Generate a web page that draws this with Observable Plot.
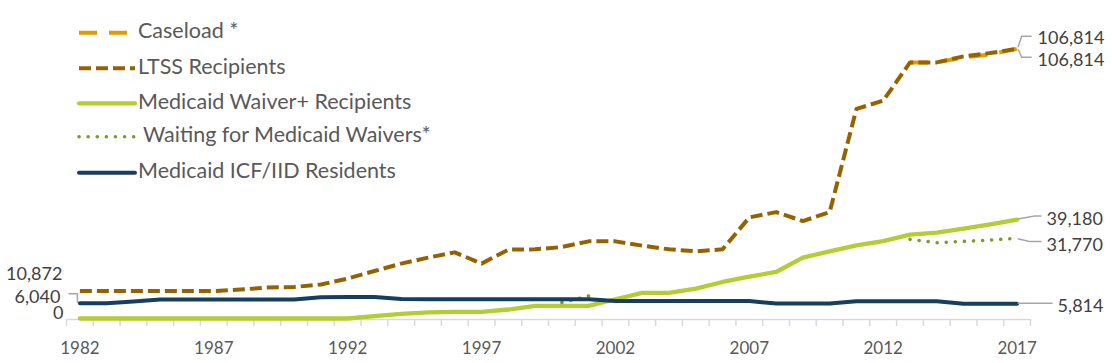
<!DOCTYPE html>
<html>
<head>
<meta charset="utf-8">
<script src="https://cdn.jsdelivr.net/npm/d3@7"></script>
<script src="https://cdn.jsdelivr.net/npm/@observablehq/plot@0.6"></script>
<style>
  html, body { margin: 0; padding: 0; background: #fff; }
  #chart { width: 1112px; height: 363px; }
</style>
</head>
<body>
<div id="chart"></div>
<script>
// ---------- DATA ----------
const years = [1982, 1983, 1984, 1985, 1986, 1987, 1988, 1989, 1990, 1991, 1992, 1993,
               1994, 1995, 1996, 1997, 1998, 1999, 2000, 2001, 2002, 2003, 2004, 2005,
               2006, 2007, 2008, 2009, 2010, 2011, 2012, 2013, 2014, 2015, 2016, 2017];
const labelYears = [1982, 1987, 1992, 1997, 2002, 2007, 2012, 2017];
const seriesNames = ["Caseload *", "LTSS Recipients", "Medicaid Waiver+ Recipients",
                     "Waiting for Medicaid Waivers*", "Medicaid ICF/IID Residents"];

const caseload = [null, null, null, null, null, null, null, null, null, null, null, null,
                  null, null, null, null, null, null, null, null, null, null, null, null,
                  null, null, null, null, null, null, null, 101420, 101420, 103400, 104600, 106814];
const ltss = [10872, 10872, 10872, 10872, 10872, 10872, 11460, 12250, 12490, 13440, 15810, 18810,
              21740, 24110, 26200, 21740, 27270, 27400, 28300, 30550, 30550, 28850, 27390, 26600,
              27390, 40040, 42130, 38580, 42130, 83000, 86280, 101420, 101420, 103800, 105140, 106814];
const waiver = [0, 0, 0, 0, 0, 0, 0, 0, 0, 0, 0, 900,
                1800, 2400, 2600, 2600, 3560, 4980, 4980, 4980, 7630, 10120, 10120, 11860,
                14470, 16600, 18420, 24110, 26600, 28970, 30670, 33200, 33990, 35570, 37270, 39180];
const waiting = [null, null, null, null, null, null, null, null, null, null, null, null,
                 null, null, null, null, null, null, 6320, 8930, null, null, null, null,
                 null, null, null, null, null, null, null, 31340, 30040, 30550, 31070, 31770];
const icf = [6040, 6040, 6700, 7500, 7500, 7500, 7500, 7500, 7500, 8400, 8500, 8500,
             7700, 7600, 7600, 7600, 7600, 7600, 7600, 7600, 6950, 6950, 6950, 6950,
             6950, 6950, 5900, 5900, 5900, 6800, 6800, 6800, 6800, 5850, 5850, 5814];

// ---------- STYLES ----------
const FONT = "Lato, 'Open Sans', sans-serif";
const styles = [
  {stroke: "#E09B00", width: 4,   dash: "18,12", cap: "butt"},
  {stroke: "#946300", width: 4,   dash: "12,5",  cap: "butt"},
  {stroke: "#B5CC34", width: 4.3, dash: null,    cap: "round"},
  {stroke: "#7B9A28", width: 3.5, dash: "0.1,9", cap: "round"},
  {stroke: "#163F5F", width: 4,   dash: null,    cap: "round"}
];
const seriesValues = [caseload, ltss, waiver, waiting, icf];

const rows = seriesValues.map(vals => years.map((yr, i) => ({year: yr, value: vals[i]})));
const halfTicks = years.map(y => y - 0.5).concat([years[years.length - 1] + 0.5]);
const fmt = d3.format(",");

function lineMark(i) {
  const s = styles[i];
  return Plot.line(rows[i], {
    x: "year", y: "value",
    stroke: s.stroke, strokeWidth: s.width,
    strokeDasharray: s.dash || undefined,
    strokeLinecap: s.cap, strokeLinejoin: "round"
  });
}

// annotations: value labels with leader lines + legend
function annotate(index, scales) {
  const X = scales.x, Y = scales.y;
  const g = d3.create("svg:g").attr("font-family", FONT).attr("text-anchor", "start");
  const leader = (d) => g.append("path").attr("d", d).attr("fill", "none")
      .attr("stroke", "#A6A6A6").attr("stroke-width", 1.5);
  const label = (x, y, t, anchor) => g.append("text").attr("x", x).attr("y", y)
      .attr("dy", "0.36em").attr("text-anchor", anchor || "start")
      .attr("font-size", 18).attr("fill", "#404040").text(t);

  const last = years.length - 1;
  const x1 = X(years[last]);
  // Caseload + LTSS end (bracket)
  const yTop = Y(ltss[last]);
  leader(`M${x1 + 1.5},${yTop - 1}L${x1 + 5},${yTop - 12}L${x1 + 15},${yTop - 12}`);
  leader(`M${x1 + 1.5},${yTop + 1}L${x1 + 5},${yTop + 9}L${x1 + 15},${yTop + 9}`);
  label(x1 + 21, yTop - 11, fmt(caseload[last]));
  label(x1 + 21, yTop + 11, fmt(ltss[last]));
  // Waiver end
  const yW = Y(waiver[last]);
  leader(`M${x1 + 1},${yW}L${x1 + 18},${yW - 3}L${x1 + 25},${yW - 3}`);
  label(x1 + 30, yW - 1, fmt(waiver[last]));
  // Waiting end
  const yWt = Y(waiting[last]);
  leader(`M${x1 + 1},${yWt + 1}L${x1 + 13},${yWt + 3.6}L${x1 + 25},${yWt + 3.6}`);
  label(x1 + 30, yWt + 7, fmt(waiting[last]));
  // ICF end
  const yI = Y(icf[last]);
  leader(`M${x1 + 1},${yI}L${x1 + 36},${yI}`);
  label(x1 + 41, yI + 2.5, fmt(icf[last]));

  // start labels
  const x0 = X(years[0]);
  label(x0 - 17, Y(ltss[0]) - 17, fmt(ltss[0]), "end");
  const yI0 = Y(icf[0]);
  leader(`M${x0 - 2},${yI0}L${x0 - 2},${yI0 - 9}L${x0 - 11},${yI0 - 9}`);
  label(x0 - 19, yI0 - 6.5, fmt(icf[0]), "end");
  label(x0 - 16, Y(waiver[0]) - 5.5, fmt(waiver[0]), "end");

  // legend
  const legendRows = [32.7, 68.3, 103.3, 136.7, 172.7];
  seriesNames.forEach((name, i) => {
    const s = styles[i];
    const ly = legendRows[i];
    g.append("line").attr("x1", 79).attr("x2", 135).attr("y1", ly).attr("y2", ly)
      .attr("stroke", s.stroke).attr("stroke-width", s.width)
      .attr("stroke-dasharray", s.dash)
      .attr("stroke-linecap", s.cap);
    g.append("text").attr("x", i === 3 ? 143 : 138).attr("y", ly - 2)
      .attr("dy", "0.36em").attr("text-anchor", "start")
      .attr("font-size", 21.5).attr("fill", "#595959").text(name);
  });
  return g.node();
}

const chart = Plot.plot({
  width: 1112,
  height: 363,
  marginLeft: 66,
  marginRight: 82,
  marginTop: 15,
  marginBottom: 45,
  style: {fontFamily: FONT, background: "#fff", overflow: "visible"},
  x: {domain: [1981.5, 2017.5], label: null},
  y: {domain: [0, 120000], axis: null},
  marks: [
    Plot.ruleY([0], {stroke: "#D9D9D9", strokeWidth: 1.5, dy: 1}),
    Plot.axisX(halfTicks, {tickSize: 7, stroke: "#D9D9D9", strokeWidth: 1.5, tickFormat: () => "", label: null, dy: 1}),
    Plot.axisX(labelYears, {tickSize: 0, tickPadding: 23, fontSize: 17, fill: "#595959", label: null, tickFormat: d => String(d)}),
    lineMark(0), lineMark(1), lineMark(2), lineMark(3), lineMark(4),
    annotate
  ]
});
document.getElementById("chart").appendChild(chart);
</script>
</body>
</html>
